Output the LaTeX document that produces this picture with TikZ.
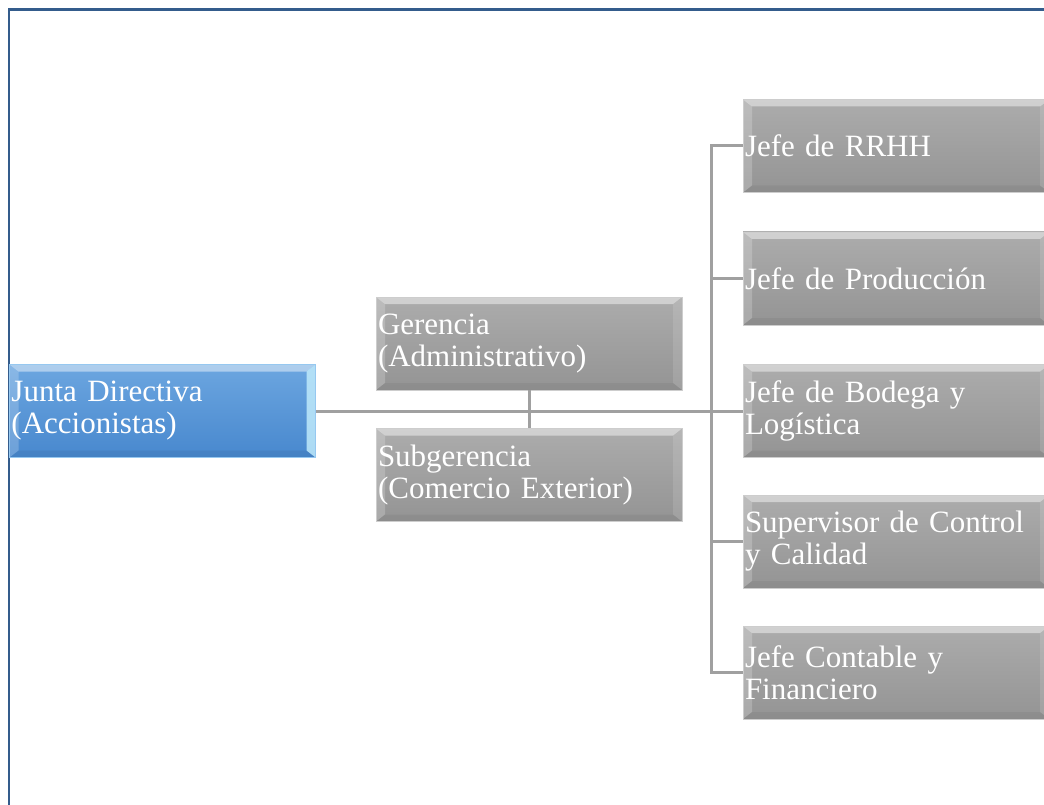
\documentclass[tikz,border=0pt]{standalone}
\usepackage{fontspec}
\setmainfont{Liberation Serif}
\definecolor{framec}{RGB}{52,92,140}
\definecolor{linec}{RGB}{160,160,160}
\definecolor{graytop}{RGB}{172,172,172}
\definecolor{graybot}{RGB}{148,148,148}
\definecolor{bluetop}{RGB}{108,166,224}
\definecolor{bluebot}{RGB}{72,136,206}
\begin{document}
\begin{tikzpicture}[x=1pt,y=-1pt,
  bevel/.style={
    path picture={
      \fill[white,opacity=0.45] (path picture bounding box.north west) -- (path picture bounding box.north east)
        -- ([xshift=-9pt,yshift=-7pt]path picture bounding box.north east) -- ([xshift=9pt,yshift=-7pt]path picture bounding box.north west) -- cycle;
      \fill[white,opacity=0.2] (path picture bounding box.north west) -- ([xshift=9pt,yshift=-7pt]path picture bounding box.north west)
        -- ([xshift=9pt,yshift=7pt]path picture bounding box.south west) -- (path picture bounding box.south west) -- cycle;
      \fill[#1] (path picture bounding box.north east) -- ([xshift=-9pt,yshift=-7pt]path picture bounding box.north east)
        -- ([xshift=-9pt,yshift=7pt]path picture bounding box.south east) -- (path picture bounding box.south east) -- cycle;
      \fill[black,opacity=0.05] (path picture bounding box.south west) -- ([xshift=9pt,yshift=7pt]path picture bounding box.south west)
        -- ([xshift=-9pt,yshift=7pt]path picture bounding box.south east) -- (path picture bounding box.south east) -- cycle;
    }},
  boxbase/.style={rectangle, minimum width=306pt, minimum height=93pt, text width=302pt,
    inner xsep=2pt, inner ysep=0pt, align=left, text=white, font=\fontsize{31}{32}\selectfont},
  graybox/.style={boxbase, draw={rgb,255:red,205;green,205;blue,205}, line width=0.8pt,
    top color=graytop, bottom color=graybot, bevel={white,opacity=0.12}},
  bluebox/.style={boxbase, draw={rgb,255:red,150;green,200;blue,240}, line width=0.8pt,
    top color=bluetop, bottom color=bluebot, bevel={cyan!25!white,opacity=0.85}},
  conn/.style={draw=linec, line width=3pt}
]
\useasboundingbox (0,0) rectangle (1044,805);
\clip (0,0) rectangle (1044,805);
\fill[white] (0,0) rectangle (1044,805);

\draw[framec, line width=2.5pt] (9,805) -- (9,9.5) -- (1044,9.5);

\node[bluebox] (junta) at (162.5,411) {Junta Directiva\\(Accionistas)};
\node[graybox] (ger) at (529,343.5) {Gerencia\\(Administrativo)};
\node[graybox] (sub) at (529,475) {Subgerencia\\(Comercio Exterior)};

\node[graybox] (rrhh) at (896,146) {Jefe de RRHH};
\node[graybox] (prod) at (896,278.5) {Jefe de Producción};
\node[graybox] (bod) at (896,411) {Jefe de Bodega y\\Logística};
\node[graybox] (sup) at (896,541.5) {Supervisor de Control\\y Calidad};
\node[graybox] (cont) at (896,672.5) {Jefe Contable y\\Financiero};

\draw[conn] (junta.east) -- (bod.west);
\draw[conn] (ger.south) -- (sub.north);
\draw[conn] (rrhh.west) -- ++(-31,0) coordinate (bustop) |- (cont.west);
\draw[conn] (prod.west) -- ++(-31,0);
\draw[conn] (sup.west) -- ++(-31,0);
\end{tikzpicture}
\end{document}
